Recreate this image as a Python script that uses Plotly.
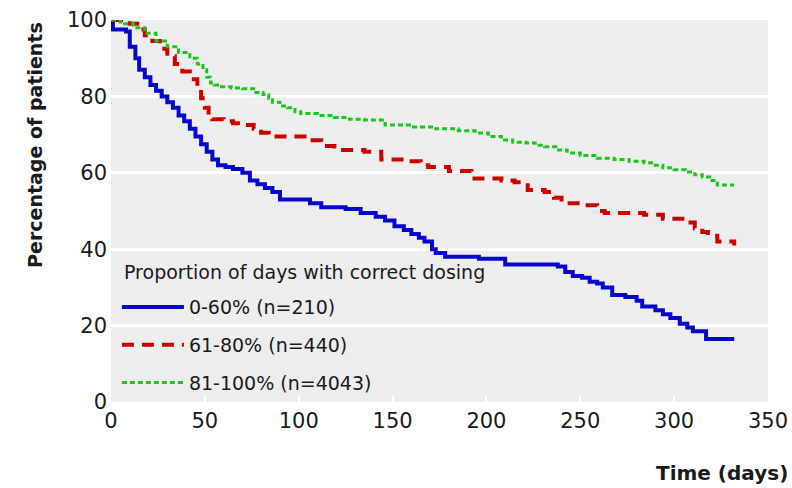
import plotly.graph_objects as go

# ---- data ----
blue_days = [0, 1, 8, 10, 13, 15, 18, 21, 24, 27, 30, 33, 36, 39, 42, 45, 48, 51, 54, 57,
             61, 65, 70, 74, 78, 82, 86, 90, 106, 112, 125, 133, 141, 146, 151, 156, 160,
             164, 167, 171, 173, 178, 196, 210, 238, 242, 246, 251, 255, 259, 262, 267, 274,
             280, 283, 290, 294, 298, 303, 307, 310, 317, 332]
blue_pct = [100, 97.5, 97, 93, 90, 87, 85, 83, 81.5, 80, 78.5, 77, 75, 73.5, 71.5, 69.5, 67.5,
            65.5, 63.5, 62, 61.5, 61, 60, 58, 57, 56, 55, 53, 52, 51, 50.5, 49.5, 48.5, 47.5,
            46, 45, 44, 43, 42, 40, 39, 38, 37.5, 36, 35.5, 34, 33, 32.5, 31.5, 31, 30, 28,
            27.5, 26.5, 25, 24, 23, 22, 20.5, 19.5, 18.5, 16.5, 16.5]

red_days = [0, 10, 14, 18, 22, 26, 30, 34, 38, 42, 46, 48, 50, 52, 54, 60, 65, 70, 76, 80, 84,
            105, 112, 119, 135, 144, 157, 165, 169, 180, 192, 208, 215, 222, 231, 236, 240,
            251, 259, 263, 284, 294, 306, 311, 315, 318, 323, 332]
red_pct = [100, 99, 97.5, 96, 94.5, 92.5, 90.5, 88.5, 86.5, 84.5, 82, 79.5, 77, 75, 74, 73.5,
           73, 72.5, 71.5, 70.5, 69.5, 68.5, 67, 66, 65.5, 63.5, 63, 62, 61.5, 60.5, 58.5,
           58, 57.5, 55.5, 55, 53.5, 52, 51.5, 50, 49.5, 49, 48, 47, 45.5, 44.5, 43.5, 42,
           41]

green_days = [0, 5, 12, 18, 24, 30, 36, 42, 46, 49, 51, 53, 55, 58, 64, 70, 76, 81, 84, 86,
              90, 94, 98, 101, 110, 119, 127, 135, 146, 160, 173, 185, 194, 201, 208, 214,
              221, 226, 231, 237, 243, 250, 259, 268, 276, 284, 289, 294, 300, 306, 311, 315,
              319, 323, 332]
green_pct = [100, 99, 98, 96.5, 94.5, 93, 91.5, 90, 88.5, 87, 85, 83.5, 83, 82.5, 82.2, 82,
             81, 80.5, 79.5, 78.5, 77.5, 77, 76, 75.5, 75, 74.5, 74, 73.8, 72.5, 72, 71.5, 71,
             70.4, 69.5, 68.6, 68, 67.8, 67.2, 66.8, 66, 65.2, 64.5, 63.8, 63.5, 63, 62.6, 62,
             61.3, 60.8, 60.2, 59.5, 58.9, 58, 56.8, 56.8]

series_names = ["0-60% (n=210)", "61-80% (n=440)", "81-100% (n=4043)"]
legend_title = "Proportion of days with correct dosing"
x_ticks = [0, 50, 100, 150, 200, 250, 300, 350]
y_ticks = [0, 20, 40, 60, 80, 100]

FONT = "DejaVu Sans"
INK = "#1a1a1a"

fig = go.Figure()
fig.add_trace(go.Scatter(x=blue_days, y=blue_pct, name=series_names[0], mode="lines",
                         line=dict(color="#0606cc", width=4, shape="hv"),
                         legendgroup="a"))
fig.add_trace(go.Scatter(x=red_days, y=red_pct, name=series_names[1], mode="lines",
                         line=dict(color="#cc0000", width=4, shape="hv", dash="12px,8px"),
                         legendgroup="b"))
fig.add_trace(go.Scatter(x=green_days, y=green_pct, name=series_names[2], mode="lines",
                         line=dict(color="#1ec41e", width=3, shape="hv", dash="5px,3px"),
                         legendgroup="c"))

fig.update_layout(
    width=792, height=488,
    margin=dict(l=111, r=24, t=20, b=86),
    paper_bgcolor="white",
    plot_bgcolor="#ededed",
    font=dict(family=FONT, size=19, color=INK),
    showlegend=True,
    legend=dict(
        x=0.009, y=0.298, xanchor="left", yanchor="top",
        bgcolor="rgba(0,0,0,0)",
        font=dict(family=FONT, size=19, color=INK),
        traceorder="grouped", tracegroupgap=10,
        itemwidth=62,
    ),
    xaxis=dict(range=[0, 350], tickvals=x_ticks, showgrid=False, zeroline=False,
               ticks="inside", tickcolor="white", ticklen=6, tickwidth=2,
               showline=False, tickfont=dict(size=21), ticklabelstandoff=4,
               automargin=False),
    yaxis=dict(range=[0, 100], tickvals=y_ticks, showgrid=True, gridcolor="white",
               gridwidth=3, zeroline=False, showline=False, ticks="",
               tickfont=dict(size=21), ticklabelstandoff=3, automargin=False),
    annotations=[
        dict(text=legend_title, xref="paper", yref="paper",
             x=0.017, y=0.340, showarrow=False,
             font=dict(family=FONT, size=19, color=INK),
             xanchor="left", yanchor="middle"),
        dict(text="<b>Percentage of patients</b>", xref="paper", yref="paper",
             x=-0.1157, y=0.673, textangle=-90, showarrow=False,
             font=dict(family=FONT, size=19, color=INK),
             xanchor="center", yanchor="middle"),
        dict(text="<b>Time (days)</b>", xref="paper", yref="paper",
             x=1.0335, y=-0.186, showarrow=False,
             font=dict(family=FONT, size=20, color=INK),
             xanchor="right", yanchor="middle"),
    ],
)

# remove the default page margin so the 792x488 figure fills the window exactly
fig.write_html("out.html",
               config={"displayModeBar": False},
               post_script="document.body.style.margin='0';document.body.style.overflow='hidden';")
